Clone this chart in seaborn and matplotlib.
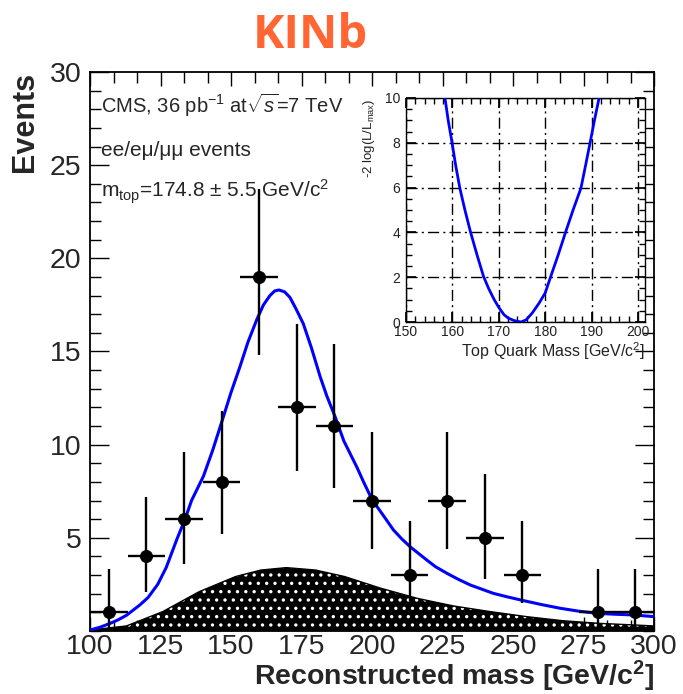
import numpy as np
import pandas as pd
import matplotlib
matplotlib.use("Agg")
import matplotlib.pyplot as plt
from matplotlib.ticker import MultipleLocator
import seaborn as sns

# ---- data ----
bin_centers = [106.67, 120.0, 133.33, 146.67, 160.0, 173.33, 186.67, 200.0,
               213.33, 226.67, 240.0, 253.33, 280.0, 293.33]
counts = [1, 4, 6, 8, 19, 12, 11, 7, 3, 7, 5, 3, 1, 1]
err_low = [0.17, 2.1, 3.6, 5.2, 14.8, 8.6, 7.7, 4.4, 1.6, 4.4, 2.8, 1.5, 0.17, 0.17]
err_high = [3.3, 7.2, 9.6, 11.8, 23.7, 16.5, 15.4, 10.7, 5.9, 10.7, 8.4, 5.9, 3.3, 3.3]
half_bin = 6.67

fit_mass = [100, 103.5, 107, 110, 113, 117.7, 120.6, 124, 127, 129, 131, 133.7, 136,
            140.2, 143.5, 147.3, 150, 153.2, 156, 159.1, 161.5, 163.8, 165.5, 167,
            169, 170.9, 173, 175.6, 178.5, 181.6, 184, 186.9, 190, 194.6, 197, 200,
            204, 207.6, 210.5, 213.5, 219.4, 222.5, 226.5, 230.5, 234.8, 243, 248,
            253.7, 260, 266.7, 273, 279.7, 286, 292.7, 300]
fit_events = [0.05, 0.2, 0.4, 0.6, 0.85, 1.4, 1.8, 2.5, 3.4, 4.2, 5.0, 6.0, 7.0,
              8.3, 9.7, 11.5, 12.8, 14.2, 15.5, 16.7, 17.5, 18.0, 18.25, 18.3,
              18.2, 17.9, 17.3, 16.5, 15.2, 13.65, 12.6, 11.5, 10.2, 8.8, 8.0, 7.05,
              6.2, 5.42, 4.95, 4.52, 3.81, 3.45, 3.1, 2.78, 2.47, 2.02, 1.83,
              1.63, 1.42, 1.22, 1.07, 0.95, 0.9, 0.86, 0.77]

bkg_mass = [100, 112.9, 125.8, 138.7, 151.6, 160.6, 169.6, 180, 190.3, 203.2, 216.1,
            229, 241.9, 254.8, 267.7, 280.6, 293.4, 300]
bkg_events = [0.05, 0.27, 1.04, 2.11, 2.92, 3.27, 3.40, 3.27, 2.92, 2.29, 1.75,
              1.34, 1.04, 0.77, 0.55, 0.41, 0.32, 0.27]

like_mass = [158.4, 159.1, 159.9, 160.7, 161.6, 162.7, 163.9, 165.3, 166.7, 167.8,
             169.0, 170.0, 171.1, 172.0, 173.2, 174.8, 175.9, 177.2, 178.7, 180.0,
             181.2, 182.8, 184.4, 186.0, 187.7, 188.7, 189.7, 190.6, 191.6]
like_vals = [10, 9.0, 8.04, 7.0, 5.98, 5.0, 4.02, 3.0, 2.04, 1.5,
             1.0, 0.65, 0.33, 0.18, 0.07, 0.0, 0.1, 0.4, 0.85, 1.3,
             2.04, 3.0, 4.02, 5.0, 5.98, 7.0, 8.04, 9.0, 10]

x_ticks = [100, 125, 150, 175, 200, 225, 250, 275, 300]
y_ticks = [5, 10, 15, 20, 25, 30]
inset_x_ticks = [150, 160, 170, 180, 190, 200]
inset_y_ticks = [0, 2, 4, 6, 8, 10]

# ---- style ----
sns.set_theme(style="ticks")
plt.rcParams['font.family'] = ['Liberation Sans', 'DejaVu Sans']
plt.rcParams['mathtext.fontset'] = 'custom'
plt.rcParams['mathtext.rm'] = 'Liberation Sans'
plt.rcParams['mathtext.it'] = 'Liberation Sans:italic'
plt.rcParams['mathtext.bf'] = 'Liberation Sans:bold'
plt.rcParams['mathtext.sf'] = 'Liberation Sans'
plt.rcParams['hatch.linewidth'] = 1.2

fig = plt.figure(figsize=(6.83, 6.94), dpi=100)
ax = fig.add_axes([0.1318, 0.0908, 0.8258, 0.8055])

df_fit = pd.DataFrame({"mass": fit_mass, "events": fit_events})
df_bkg = pd.DataFrame({"mass": bkg_mass, "events": bkg_events})
df_pts = pd.DataFrame({"mass": bin_centers, "events": counts})

# background (hatched black)
ax.fill_between(df_bkg["mass"], 0, df_bkg["events"], facecolor="black",
                edgecolor="white", hatch="..", linewidth=0, zorder=1)
sns.lineplot(data=df_bkg, x="mass", y="events", ax=ax, color="black", lw=1.0, zorder=2)

# fit
sns.lineplot(data=df_fit, x="mass", y="events", ax=ax, color="#0000ff", lw=2.2, zorder=3)

# data
yerr = [np.array(counts) - np.array(err_low), np.array(err_high) - np.array(counts)]
ax.errorbar(bin_centers, counts, yerr=yerr, xerr=half_bin, fmt="none",
            ecolor="black", elinewidth=1.7, capsize=0, zorder=4)
sns.scatterplot(data=df_pts, x="mass", y="events", ax=ax, color="black", s=75,
                edgecolor="black", zorder=5)

ax.set_xlim(100, 300)
ax.set_ylim(0, 30)
ax.set_xticks(x_ticks)
ax.set_yticks(y_ticks)
ax.xaxis.set_minor_locator(MultipleLocator(25 / 3))
ax.yaxis.set_minor_locator(MultipleLocator(1))
ax.tick_params(which="both", direction="in", top=True, right=True, width=1.0, color="black")
ax.tick_params(which="major", length=14, labelsize=20.5)
ax.tick_params(which="minor", length=8)
ax.tick_params(axis="y", which="major", pad=6)
ax.tick_params(axis="x", which="major", length=10, pad=2)
ax.tick_params(axis="x", which="minor", length=8)
for s in ax.spines.values():
    s.set_linewidth(1.3)
    s.set_color("black")

ax.set_xlabel(r"Reconstructed mass [GeV/c$^{\mathbf{2}}$]", fontsize=20.5,
              fontweight="bold", ha="right", va="baseline")
ax.xaxis.set_label_coords(1.0, -0.0975)
ax.set_ylabel("Events", fontsize=22, fontweight="bold", ha="right", va="top")
ax.yaxis.set_label_coords(-0.142, 1.0)

ax.text(0.02, 0.94, r"CMS, 36 pb$^{-1}$ at$\sqrt{s}$=7 TeV", transform=ax.transAxes,
        fontsize=14.5, va="center", ha="left")
ax.text(0.02, 0.86, "ee/eμ/μμ events", transform=ax.transAxes,
        fontsize=15, va="center", ha="left")
ax.text(0.02, 0.785, r"m$_{\mathrm{top}}$=174.8 ± 5.5 GeV/c$^{2}$", transform=ax.transAxes,
        fontsize=15, va="center", ha="left")

fig.text(0.455, 0.949, "KINb", color="#ff6633", fontsize=34, fontweight="bold",
         family=["Open Sans", "DejaVu Sans"], ha="center", va="center")

# ---- inset ----
ins = fig.add_axes([0.5944, 0.536, 0.35, 0.3228])
df_like = pd.DataFrame({"mass": like_mass, "nll": like_vals})
sns.lineplot(data=df_like, x="mass", y="nll", ax=ins, color="#0000ff", lw=2.0, zorder=3)
ins.set_xlim(150, 201.5)
ins.set_ylim(0, 10)
ins.set_xticks(inset_x_ticks)
ins.set_yticks(inset_y_ticks)
ins.xaxis.set_minor_locator(MultipleLocator(2))
ins.yaxis.set_minor_locator(MultipleLocator(0.5))
ins.tick_params(which="both", direction="in", top=True, right=True, color="black",
                labelsize=10, labelcolor="#222222")
ins.tick_params(axis="x", pad=2)
ins.tick_params(axis="y", pad=4)
ins.tick_params(which="major", length=7)
ins.tick_params(which="minor", length=4)
ins.grid(True, which="major", color="black", lw=1.0, linestyle=(0, (8, 3, 1.5, 3)))
for s in ins.spines.values():
    s.set_linewidth(1.0)
    s.set_color("black")
ins.set_xlabel(r"Top Quark Mass [GeV/c$^{2}$]", fontsize=11.5, loc="right",
               labelpad=1, color="#222222")
ins.set_ylabel(r"-2 log(L/L$_{\mathrm{max}}$)", fontsize=9.5, loc="top",
               labelpad=6, color="#222222")

fig.savefig("out.png", dpi=100)
